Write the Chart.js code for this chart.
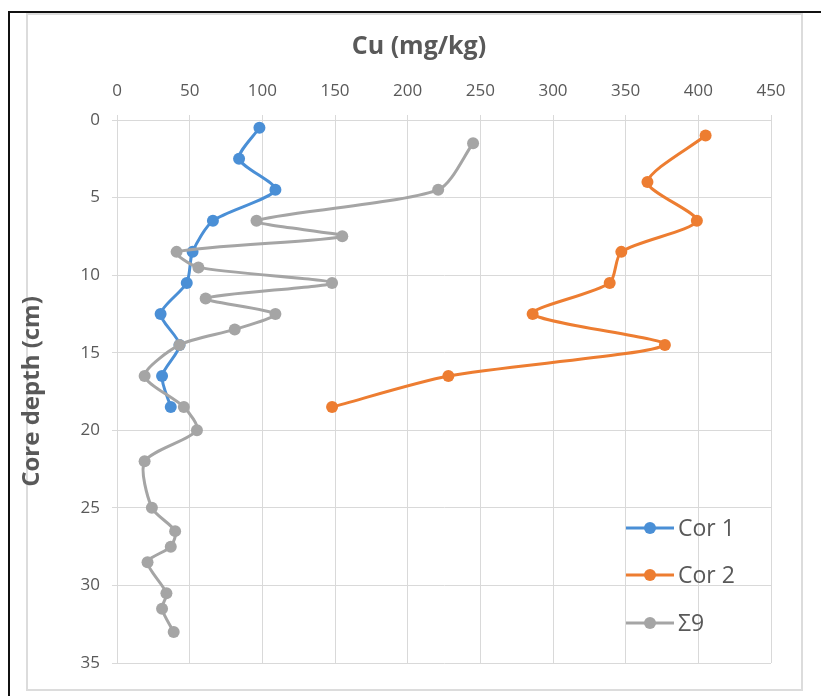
<!DOCTYPE html>
<html>
<head>
<meta charset="utf-8">
<script src="https://cdn.jsdelivr.net/npm/chart.js@4/dist/chart.umd.min.js"></script>
<style>
  html, body { margin: 0; padding: 0; background: #fff; }
  body { width: 821px; height: 696px; position: relative; overflow: hidden; }
  .frame-top  { position: absolute; left: 8px; top: 11px; width: 813px; height: 2px; background: #111; }
  .frame-left { position: absolute; left: 8px; top: 11px; width: 2px; height: 685px; background: #111; }
  .chart-box  { position: absolute; left: 26px; top: 13px; width: 777px; height: 678px;
                border: 2px solid #dcdcdc; box-sizing: border-box; }
  #wrap { position: absolute; left: 0; top: 0; width: 821px; height: 696px; }
</style>
</head>
<body>
<div class="frame-top"></div>
<div class="frame-left"></div>
<div class="chart-box"></div>
<div id="wrap"><canvas id="cuChart" width="821" height="696"></canvas></div>

<script>
// ── Cu profiles (depth in cm, Cu in mg/kg) ─────────────────────
const seriesNames = ['Cor 1', 'Cor 2', 'Σ9'];

const cor1Depth = [0.5, 2.5, 4.5, 6.5, 8.5, 10.5, 12.5, 14.5, 16.5, 18.5];
const cor1Cu    = [98, 84, 109, 66, 52, 48, 30, 43, 31, 37];

const cor2Depth = [1, 4, 6.5, 8.5, 10.5, 12.5, 14.5, 16.5, 18.5];
const cor2Cu    = [405, 365, 399, 347, 339, 286, 377, 228, 148];

const sigmaDepth = [1.5, 4.5, 6.5, 7.5, 8.5, 9.5, 10.5, 11.5, 12.5, 13.5, 14.5,
                    16.5, 18.5, 20, 22, 25, 26.5, 27.5, 28.5, 30.5, 31.5, 33];
const sigmaCu    = [245, 221, 96, 155, 41, 56, 148, 61, 109, 81, 43,
                    19, 46, 55, 19, 24, 40, 37, 21, 34, 31, 39];

const cuTicks    = [0, 50, 100, 150, 200, 250, 300, 350, 400, 450];
const depthTicks = [0, 5, 10, 15, 20, 25, 30, 35];

const COLORS = ['#4a8fd6', '#ed7d31', '#a5a5a5'];
const TEXT   = '#595959';
const GRID   = '#d9d9d9';
const FONT   = "'Open Sans', sans-serif";

function toPoints(xs, ys) {
    return xs.map((x, i) => ({ x, y: ys[i] }));
}

function lineSet(i, xs, ys) {
    return {
        label: seriesNames[i],
        data: toPoints(xs, ys),
        showLine: true,
        borderColor: COLORS[i],
        backgroundColor: COLORS[i],
        borderWidth: 3,
        pointRadius: 6,
        pointHoverRadius: 6,
        pointBorderWidth: 0,
        tension: 0.25,
        order: 2 - i          // later series sit on top
    };
}

// ── Title + in-plot legend ────────────────────────────────────
const decorPlugin = {
    id: 'decor',
    afterDraw(chart) {
        const ctx = chart.ctx;
        ctx.save();
        ctx.fillStyle = TEXT;
        ctx.font = "bold 25px " + FONT;
        ctx.textAlign = 'center';
        ctx.textBaseline = 'middle';
        ctx.fillText('Cu (mg/kg)', 419, 47);

        const rows = [528, 575, 623];
        chart.data.datasets.forEach((ds, i) => {
            const y = rows[i];
            ctx.strokeStyle = ds.borderColor;
            ctx.lineWidth = 3;
            ctx.beginPath();
            ctx.moveTo(626, y);
            ctx.lineTo(674, y);
            ctx.stroke();
            ctx.fillStyle = ds.backgroundColor;
            ctx.beginPath();
            ctx.arc(650, y, 6, 0, Math.PI * 2);
            ctx.fill();
            ctx.fillStyle = TEXT;
            ctx.font = "23px " + FONT;
            ctx.textAlign = 'left';
            ctx.fillText(ds.label, 678, y + 1);
        });
        ctx.restore();
    }
};

new Chart(document.getElementById('cuChart'), {
    type: 'scatter',
    data: {
        datasets: [
            lineSet(0, cor1Cu, cor1Depth),
            lineSet(1, cor2Cu, cor2Depth),
            lineSet(2, sigmaCu, sigmaDepth)
        ]
    },
    options: {
        responsive: false,
        animation: false,
        layout: { padding: { left: 18, right: 50, top: 0, bottom: 33 } },
        plugins: {
            legend: { display: false },
            tooltip: { enabled: false }
        },
        scales: {
            x: {
                type: 'linear',
                position: 'top',
                min: 0, max: 450,
                afterBuildTicks: s => { s.ticks = cuTicks.map(v => ({ value: v })); },
                afterFit: s => { s.height = 120; },
                grid: { color: GRID, lineWidth: 1, tickLength: 5 },
                border: { color: GRID },
                ticks: { color: TEXT, font: { family: FONT, size: 17 }, padding: 14, maxRotation: 0 }
            },
            y: {
                type: 'linear',
                reverse: true,
                min: 0, max: 35,
                afterBuildTicks: s => { s.ticks = depthTicks.map(v => ({ value: v })); },
                afterFit: s => { s.width = 99; },
                grid: { color: GRID, lineWidth: 1, tickLength: 5 },
                border: { color: GRID },
                ticks: { color: TEXT, font: { family: FONT, size: 17 }, padding: 12 },
                title: {
                    display: true,
                    text: 'Core depth (cm)',
                    color: TEXT,
                    font: { family: FONT, size: 24, weight: 'bold' },
                    padding: 0
                }
            }
        }
    },
    plugins: [decorPlugin]
});
</script>
</body>
</html>
